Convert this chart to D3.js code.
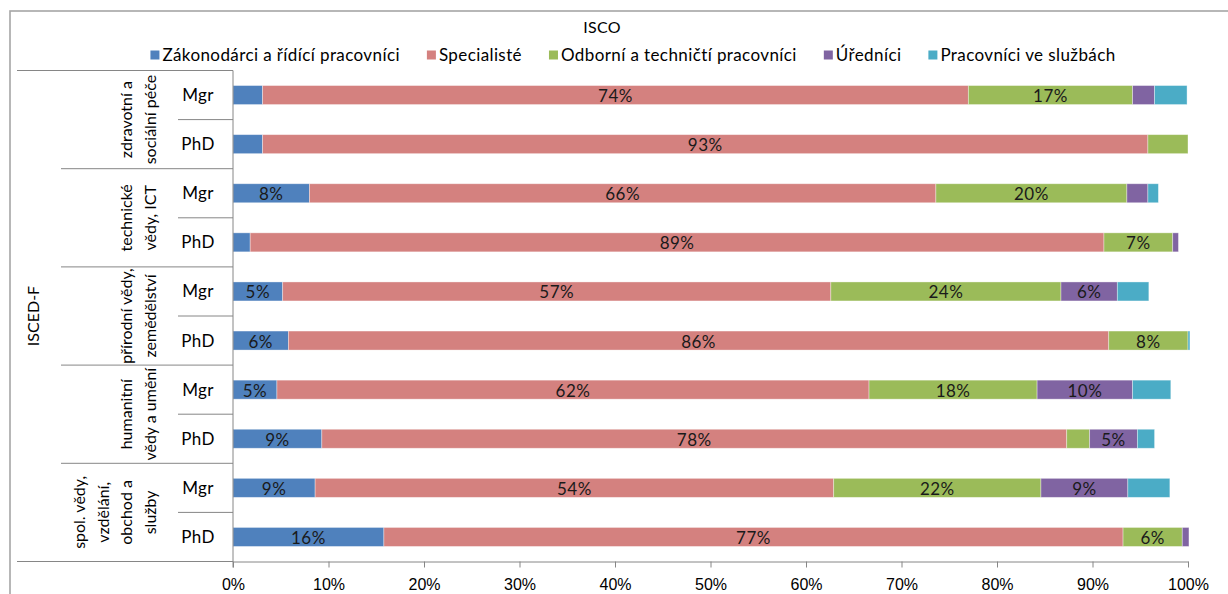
<!DOCTYPE html>
<html lang="cs">
<head>
<meta charset="utf-8">
<script src="https://cdn.jsdelivr.net/npm/d3@7"></script>
<style>
  body { margin: 0; background: #fff; }
  svg { display: block; font-family: Lato, "Open Sans", sans-serif; }
</style>
</head>
<body>
<div id="chart"></div>
<script>
// kategorie ISCED-F (shora dolů) a jejich zalomené popisky
const categories = ["zdravotní a sociální péče", "technické vědy, ICT", "přírodní vědy, zemědělství", "humanitní vědy a umění", "spol. vědy, vzdělání, obchod a služby"];
const categoryLines = [
  ["zdravotní a", "sociální péče"],
  ["technické", "vědy, ICT"],
  ["přírodní vědy,", "zemědělství"],
  ["humanitní", "vědy a umění"],
  ["spol. vědy,", "vzdělání,", "obchod a", "služby"]
];
const degrees = ["Mgr", "PhD"];

// ISCO skupiny (pořadí ve stacku i v legendě)
const seriesNames = ["Zákonodárci a řídící pracovníci", "Specialisté", "Odborní a techničtí pracovníci", "Úředníci", "Pracovníci ve službách"];
const seriesColors = ["#4F81BD", "#D4817F", "#9BBB59", "#8064A2", "#4BACC6"];

// hodnoty v %, řádky: zdrav. Mgr, PhD, tech. Mgr, PhD, přír. Mgr, PhD, hum. Mgr, PhD, spol. Mgr, PhD
const zakonodarci = [3.1, 3.1, 8.0, 1.8, 5.2, 5.8, 4.6, 9.3, 8.6, 15.8];
const specialiste = [73.9, 92.7, 65.6, 89.4, 57.4, 85.9, 62.0, 78.0, 54.3, 77.4];
const odborni     = [17.2, 4.2, 20.0, 7.2, 24.1, 8.3, 17.6, 2.4, 21.7, 6.2];
const urednici    = [2.3, 0, 2.2, 0.6, 5.9, 0, 10.0, 5.0, 9.1, 0.7];
const sluzby      = [3.4, 0, 1.1, 0, 3.3, 0.2, 4.0, 1.8, 4.4, 0];

const xTicks = [0, 10, 20, 30, 40, 50, 60, 70, 80, 90, 100];

const width = 1228;
const height = 594;
const plot = { top: 70.5, bottom: 561.5, left: 233, right: 1188 };
const barHeight = 19;
const labelMin = 4.5;

// tabulka pro d3.stack
const valueLists = [zakonodarci, specialiste, odborni, urednici, sluzby];
const rows = [];
categories.forEach(c => degrees.forEach(d => rows.push({ key: c + "|" + d, cat: c, degree: d })));
rows.forEach((r, i) => seriesNames.forEach((s, j) => r[s] = valueLists[j][i]));

const series = d3.stack().keys(seriesNames)(rows).map(s => (s.forEach(v => v.key = s.key), s));

const x = d3.scaleLinear().domain([0, 100]).range([plot.left, plot.right]);
const y = d3.scaleBand().domain(rows.map(r => r.key)).range([plot.top, plot.bottom]);
const yCat = d3.scaleBand().domain(categories).range([plot.top, plot.bottom]);
const color = d3.scaleOrdinal().domain(seriesNames).range(seriesColors);

const svg = d3.create("svg")
  .attr("width", width)
  .attr("height", height)
  .attr("viewBox", [0, 0, width, height]);

// rámeček grafu (pravý a spodní okraj jsou mimo obrázek)
svg.append("rect")
  .attr("x", 10).attr("y", 11)
  .attr("width", 1240).attr("height", 620)
  .attr("fill", "none")
  .attr("stroke", "#a6a6a6")
  .attr("stroke-width", 1.6);

// nadpis
svg.append("text")
  .attr("x", 602).attr("y", 33)
  .attr("text-anchor", "middle")
  .attr("font-size", 16)
  .attr("letter-spacing", 0.3)
  .text("ISCO");

// legenda
const legend = svg.append("g")
  .attr("font-size", 17)
  .attr("letter-spacing", 0.4);
seriesNames.forEach(name => {
  const item = legend.append("g");
  item.append("rect")
    .attr("x", 0).attr("y", -4.5)
    .attr("width", 9).attr("height", 9)
    .attr("fill", color(name));
  item.append("text")
    .attr("x", 12).attr("y", 0)
    .attr("dy", "0.35em")
    .text(name);
});

// sloupce
svg.append("g")
  .selectAll("g")
  .data(series)
  .join("g")
  .attr("fill", d => color(d.key))
  .selectAll("rect")
  .data(d => d.filter(v => v[1] - v[0] > 0))
  .join("rect")
  .attr("x", d => x(d[0]))
  .attr("y", d => y(d.data.key) + (y.bandwidth() - barHeight) / 2)
  .attr("width", d => x(d[1]) - x(d[0]))
  .attr("height", barHeight)
  .attr("stroke", "#fff")
  .attr("stroke-opacity", 0.45)
  .attr("stroke-width", 0.8);

// popisky hodnot
svg.append("g")
  .attr("font-size", 17)
  .attr("letter-spacing", 0.5)
  .attr("fill", "#1a1a1a")
  .attr("text-anchor", "middle")
  .selectAll("g")
  .data(series)
  .join("g")
  .selectAll("text")
  .data(d => d.filter(v => v[1] - v[0] >= labelMin))
  .join("text")
  .attr("x", d => (x(d[0]) + x(d[1])) / 2)
  .attr("y", d => y(d.data.key) + y.bandwidth() / 2 + 1)
  .attr("dy", "0.35em")
  .text(d => Math.round(d[1] - d[0]) + "%");

// osa x
svg.append("g")
  .attr("transform", `translate(0,${plot.bottom})`)
  .call(d3.axisBottom(x).tickValues(xTicks).tickSize(6).tickSizeOuter(0).tickPadding(11).tickFormat(d => d + "%"))
  .call(g => g.select(".domain").attr("stroke", "#868686"))
  .call(g => g.selectAll(".tick line").attr("stroke", "#868686"))
  .call(g => g.selectAll(".tick text").attr("font-size", 16).attr("fill", "#000").attr("font-family", null));

// víceúrovňová osa y: čáry
const axisLines = svg.append("g").attr("stroke", "#868686").attr("stroke-width", 1);
axisLines.append("line")
  .attr("x1", plot.left).attr("x2", plot.left)
  .attr("y1", plot.top).attr("y2", plot.bottom + 6);
axisLines.selectAll(".outer")
  .data([plot.top, plot.bottom])
  .join("line")
  .attr("x1", 17).attr("x2", plot.left)
  .attr("y1", d => d).attr("y2", d => d);
axisLines.selectAll(".cat")
  .data(categories.slice(1))
  .join("line")
  .attr("x1", 61).attr("x2", plot.left)
  .attr("y1", d => yCat(d)).attr("y2", d => yCat(d));
axisLines.selectAll(".deg")
  .data(categories)
  .join("line")
  .attr("x1", 178).attr("x2", plot.left)
  .attr("y1", d => yCat(d) + yCat.bandwidth() / 2)
  .attr("y2", d => yCat(d) + yCat.bandwidth() / 2);

// Mgr / PhD
svg.append("g")
  .attr("font-size", 17)
  .attr("letter-spacing", 0.3)
  .attr("text-anchor", "middle")
  .selectAll("text")
  .data(rows)
  .join("text")
  .attr("x", 198)
  .attr("y", d => y(d.key) + y.bandwidth() / 2)
  .attr("dy", "0.35em")
  .text(d => d.degree);

// názvy oborů - otočené
svg.append("g")
  .attr("font-size", 16)
  .attr("text-anchor", "middle")
  .selectAll("g")
  .data(categories)
  .join("g")
  .each(function (c, i) {
    const lines = categoryLines[i];
    const cy = yCat(c) + yCat.bandwidth() / 2;
    d3.select(this).selectAll("text")
      .data(lines)
      .join("text")
      .attr("transform", (t, k) => `translate(${150 - (lines.length - 1 - k) * 23.5},${cy}) rotate(-90)`)
      .attr("dy", "0.35em")
      .text(t => t);
  });

svg.append("text")
  .attr("transform", `translate(33,${(plot.top + plot.bottom) / 2}) rotate(-90)`)
  .attr("text-anchor", "middle")
  .attr("dy", "0.35em")
  .attr("font-size", 16)
  .text("ISCED-F");

d3.select("#chart").node().appendChild(svg.node());

// legenda na střed (měření až po vložení do stránky)
const gap = 27;
let pos = 0;
legend.selectAll(":scope > g").each(function () {
  d3.select(this).attr("transform", `translate(${pos},0)`);
  pos += 12 + d3.select(this).select("text").node().getComputedTextLength() + gap;
});
legend.attr("transform", `translate(${633 - (pos - gap) / 2},55)`);
</script>
</body>
</html>
